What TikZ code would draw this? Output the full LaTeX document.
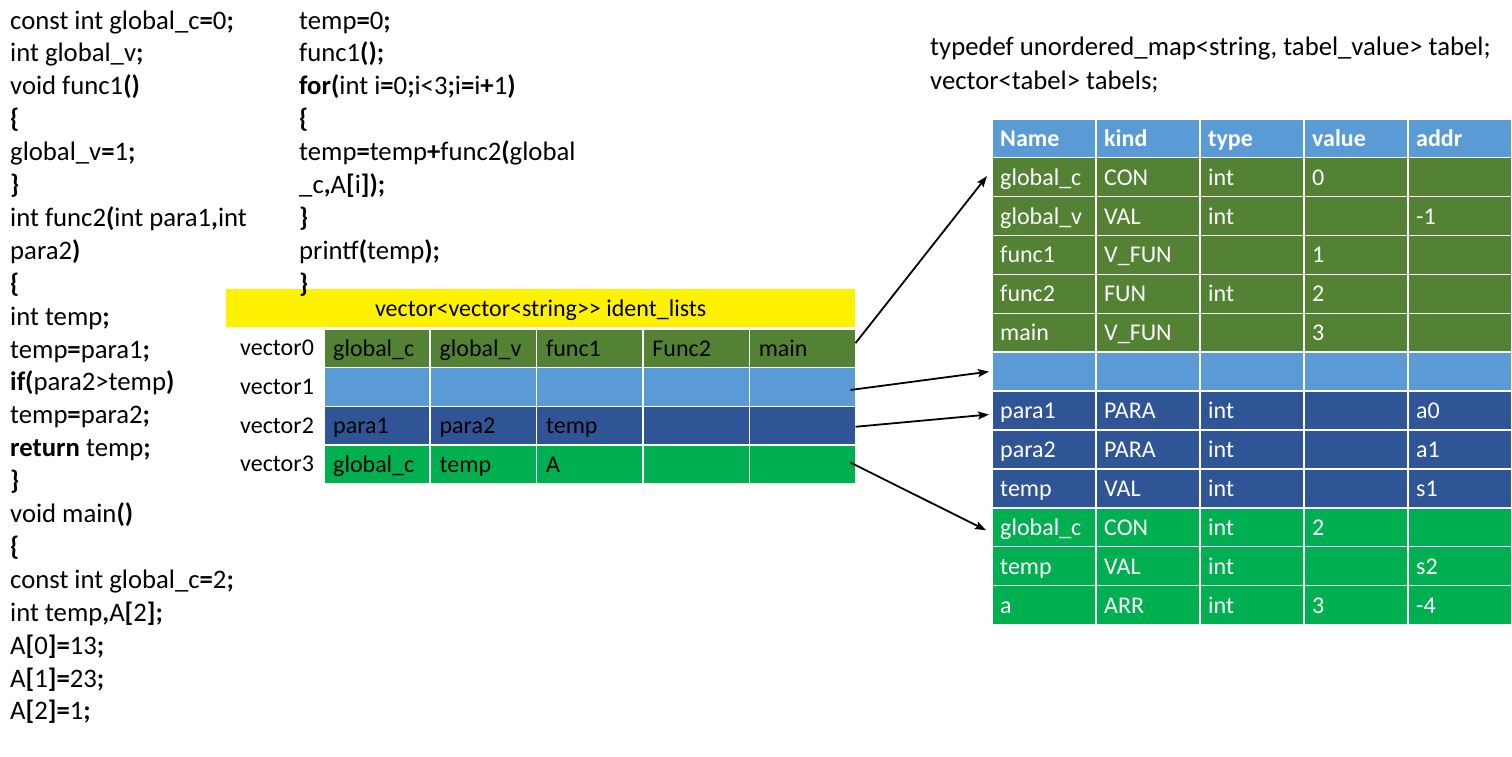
\documentclass[tikz,border=0pt]{standalone}
\usepackage{fontspec}
\setmainfont{Carlito}
\usetikzlibrary{arrows.meta}
\definecolor{dgreen}{HTML}{548235}
\definecolor{lblue}{HTML}{5B9BD5}
\definecolor{dblue}{HTML}{2F5597}
\definecolor{bgreen}{HTML}{00B050}
\newcommand\bb[1]{{\bfseries #1}}
\begin{document}
\begin{tikzpicture}[x=1pt,y=-1pt,
  code/.style={anchor=base west,inner sep=0pt,font=\fontsize{26.7}{32.9}\selectfont},
  gcell/.style={draw=white,line width=1.5pt,minimum width=106.4pt,minimum height=38.8pt,inner sep=0pt,anchor=north west},
  rcell/.style={draw=white,line width=1.5pt,minimum width=104pt,minimum height=38.9pt,inner sep=0pt,anchor=north west},
  gtxt/.style={anchor=base west,inner sep=0pt,font=\fontsize{24}{28}\selectfont,text=black},
  rtxt/.style={anchor=base west,inner sep=0pt,font=\fontsize{24}{28}\selectfont,text=white},
  arr/.style={line width=1.8pt,-{Stealth[length=11pt,width=8pt,inset=2pt]}}]
\fill[white] (0,0) rectangle (1512,756);
\useasboundingbox (0,0) rectangle (1512,756);
% yellow bar
\node[fill=yellow,minimum width=629pt,minimum height=38pt,inner sep=0pt,anchor=north west] (Y) at (226,289) {};
\node[gtxt,anchor=base] (Yt) at ([shift={(0,8)}]Y.center) {vector<vector<string>{}> ident\_lists};
% left grid
\foreach \r/\col in {0/dgreen,1/lblue,2/dblue,3/bgreen}{
  \node[gtxt] (V\r) at (240,{347.4+\r*38.8+8}) {vector\r};
  \foreach \c in {0,...,4}{
    \node[gcell,fill=\col] (L\r\c) at ({323+\c*106.4},{328+\r*38.8}) {};
  }
}
\foreach \r/\c/\t in {0/0/global\_c,0/1/global\_v,0/2/func1,0/3/Func2,0/4/main,
  2/0/para1,2/1/para2,2/2/temp,3/0/global\_c,3/1/temp,3/2/A}{
  \node[gtxt] (G\r\c) at ([shift={(10,8)}]L\r\c.west) {\t};
}
% right table
\foreach \k/\t in {0/Name,1/kind,2/type,3/value,4/addr}{
  \node[rcell,fill=lblue] (R0-\k) at ({991+\k*104},118) {};
  \node[rtxt,font=\fontsize{24}{28}\selectfont\bfseries] (T0-\k) at ([shift={(9,8)}]R0-\k.west) {\t};
}
\foreach \r/\col/\ta/\tb/\tc/\td/\te in {
  1/dgreen/global\_c/CON/int/0/,
  2/dgreen/global\_v/VAL/int//-1,
  3/dgreen/func1/V\_FUN//1/,
  4/dgreen/func2/FUN/int/2/,
  5/dgreen/main/V\_FUN//3/,
  6/lblue/////,
  7/dblue/para1/PARA/int//a0,
  8/dblue/para2/PARA/int//a1,
  9/dblue/temp/VAL/int//s1,
  10/bgreen/global\_c/CON/int/2/,
  11/bgreen/temp/VAL/int//s2,
  12/bgreen/a/ARR/int/3/-4}{
  \foreach \k/\t in {0/\ta,1/\tb,2/\tc,3/\td,4/\te}{
    \node[rcell,fill=\col] (R\r-\k) at ({991+\k*104},{118+\r*38.9}) {};
    \node[rtxt] (T\r-\k) at ([shift={(9,8)}]R\r-\k.west) {\t};
  }
}
% typedef text
\node[code] (td1) at (930,55) {typedef unordered\_map<string, tabel\_value> tabel;};
\node[code] (td2) at (930,89) {vector<tabel> tabels;};
% left code
\newcommand\codeln[3]{\node[code] (C#1) at (#2,{29+#1*32.9}) {#3};}
\codeln{0}{10}{const int global\_c\bb{=}0\bb{;}}
\codeln{1}{10}{int global\_v\bb{;}}
\codeln{2}{10}{void func1\bb{()}}
\codeln{3}{10}{\bb{\{}}
\codeln{4}{10}{global\_v\bb{=}1\bb{;}}
\codeln{5}{10}{\bb{\}}}
\codeln{6}{10}{int func2\bb{(}int para1\bb{,}int}
\codeln{7}{10}{para2\bb{)}}
\codeln{8}{10}{\bb{\{}}
\codeln{9}{10}{int temp\bb{;}}
\codeln{10}{10}{temp\bb{=}para1\bb{;}}
\codeln{11}{10}{\bb{if(}para2>temp\bb{)}}
\codeln{12}{10}{temp\bb{=}para2\bb{;}}
\codeln{13}{10}{\bb{return} temp\bb{;}}
\codeln{14}{10}{\bb{\}}}
\codeln{15}{10}{void main\bb{()}}
\codeln{16}{10}{\bb{\{}}
\codeln{17}{10}{const int global\_c\bb{=}2\bb{;}}
\codeln{18}{10}{int temp\bb{,}A\bb{[}2\bb{];}}
\codeln{19}{10}{A\bb{[}0\bb{]=}13\bb{;}}
\codeln{20}{10}{A\bb{[}1\bb{]=}23\bb{;}}
\codeln{21}{10}{A\bb{[}2\bb{]=}1\bb{;}}
% middle code
\newcommand\codelm[2]{\node[code] (M#1) at (299,{29+#1*32.9}) {#2};}
\codelm{0}{temp\bb{=}0\bb{;}}
\codelm{1}{func1\bb{();}}
\codelm{2}{\bb{for(}int i\bb{=}0\bb{;}i<3\bb{;}i\bb{=}i\bb{+}1\bb{)}}
\codelm{3}{\bb{\{}}
\codelm{4}{temp\bb{=}temp\bb{+}func2\bb{(}global}
\codelm{5}{\_c\bb{,}A\bb{[}i\bb{]);}}
\codelm{6}{\bb{\}}}
\codelm{7}{printf\bb{(}temp\bb{);}}
\codelm{8}{\bb{\}}}
% arrows
\draw[arr] ([shift={(-1,-5)}]L04.east) -- ([shift={(-4,-1)}]R1-0.west);
\draw[arr] ([shift={(-6,3)}]L14.east) -- ([shift={(-2,0)}]R6-0.west);
\draw[arr] ([shift={(-1,1)}]L24.east) -- ([shift={(-2,4)}]R7-0.west);
\draw[arr] ([shift={(-6,-2)}]L34.east) -- ([shift={(-5,3)}]R10-0.west);
\end{tikzpicture}
\end{document}
